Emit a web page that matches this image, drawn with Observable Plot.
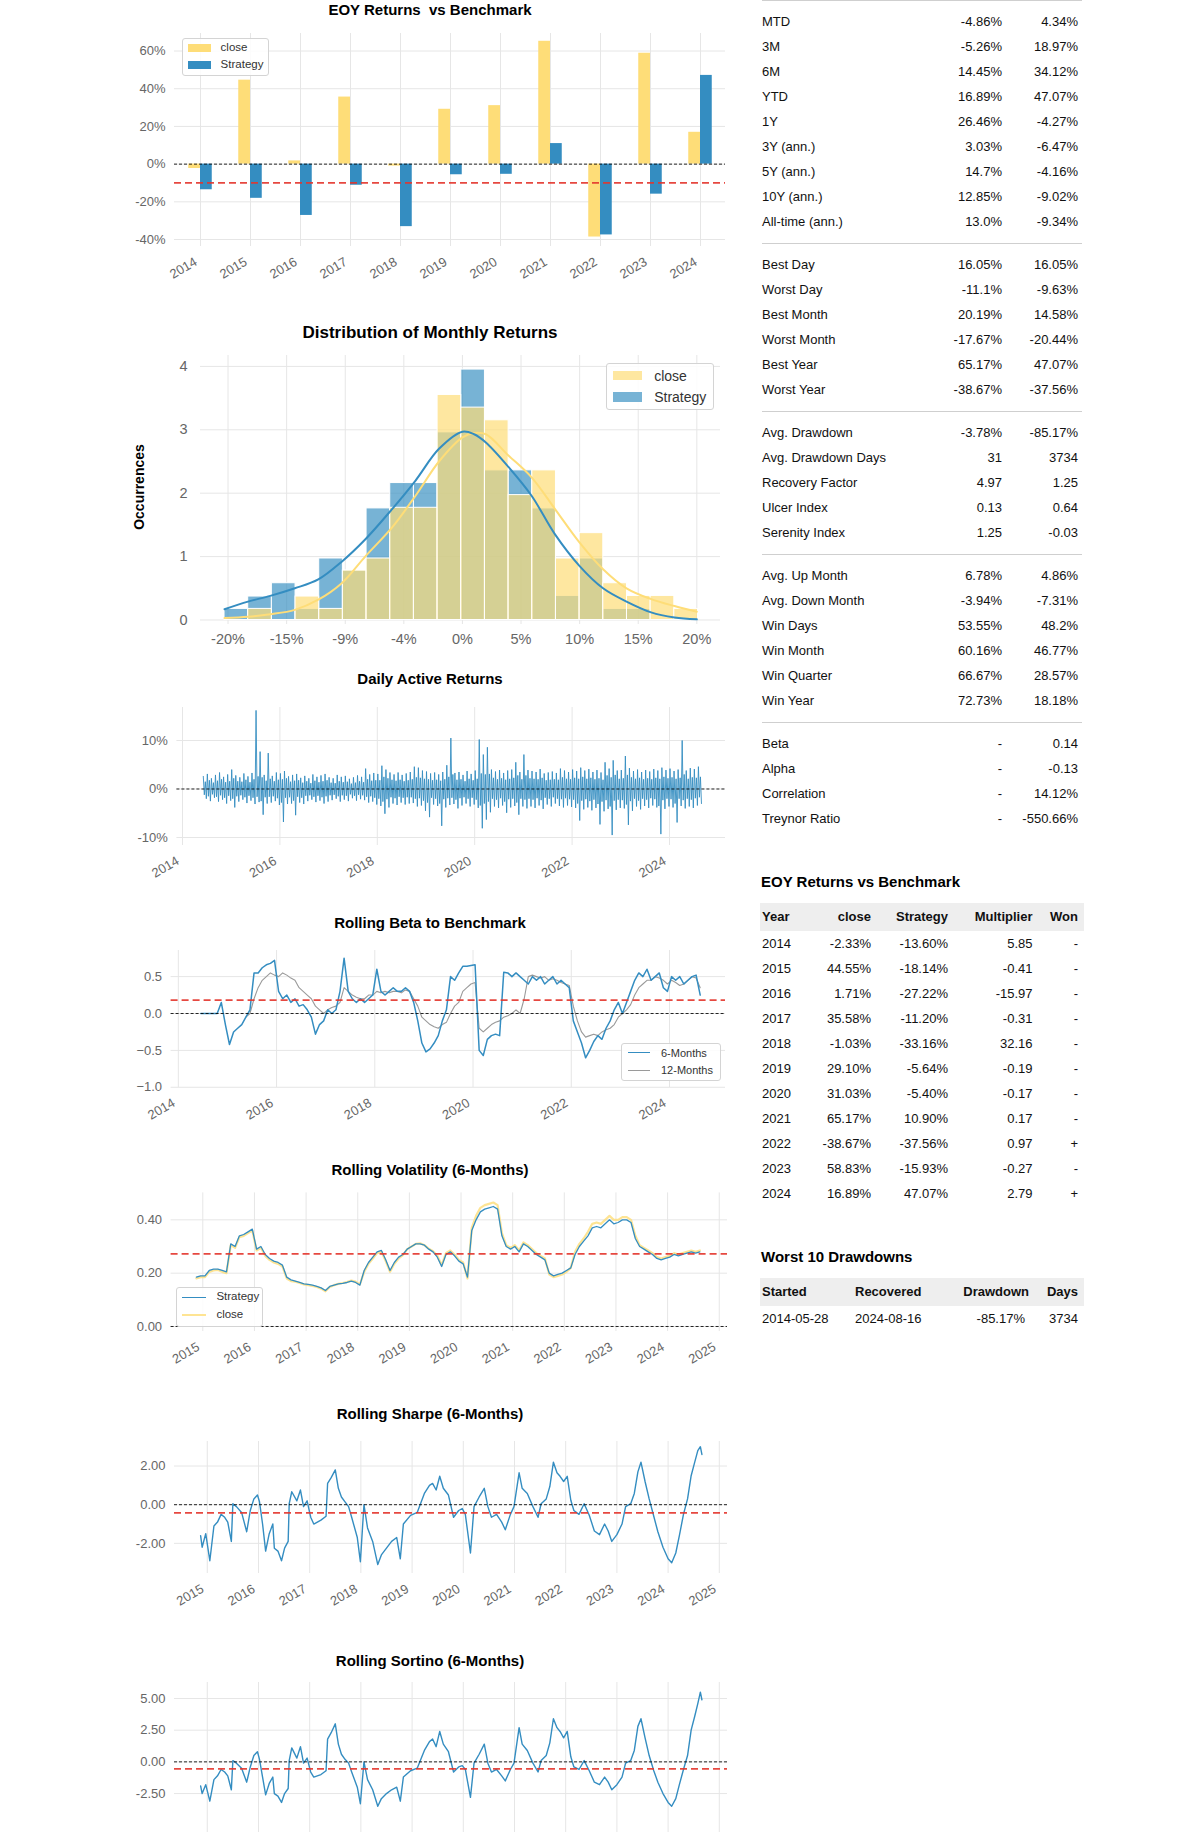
<!DOCTYPE html>
<html><head><meta charset="utf-8">
<script src="https://cdn.jsdelivr.net/npm/d3@7"></script>
<script src="https://cdn.jsdelivr.net/npm/@observablehq/plot@0.6"></script>
<style>
html,body{margin:0;padding:0;background:#fff;}
body{width:1200px;height:1832px;overflow:hidden;position:relative;font-family:"Liberation Sans",Arial,Helvetica,sans-serif;color:#111;}
#root{position:absolute;left:0;top:0;width:1200px;height:1832px;overflow:hidden;}
.title{position:absolute;font-weight:bold;font-size:15px;transform:translate(-50%,-50%);white-space:pre;color:#000;line-height:1;}
.legend{position:absolute;border:1px solid #d4d4d4;border-radius:3px;background:rgba(255,255,255,0.85);box-sizing:border-box;}
.legend .sw{position:absolute;}
.legend .lt{position:absolute;white-space:nowrap;color:#333;transform:translateY(-50%);line-height:1;}
.tbl{position:absolute;font-size:13px;color:#111;}
.row{position:relative;height:25px;line-height:25px;white-space:nowrap;}
.r{position:absolute;top:0;text-align:right;}
</style>
</head><body><div id="root"></div>
<script>
// ---------------- DATA ----------------
const years = [2014,2015,2016,2017,2018,2019,2020,2021,2022,2023,2024];
const eoyClose = [-2.33,44.55,1.71,35.58,-1.03,29.10,31.03,65.17,-38.67,58.83,16.89];
const eoyStrategy = [-13.60,-18.14,-27.22,-11.20,-33.16,-5.64,-5.40,10.90,-37.56,-15.93,47.07];
const eoyMultiplier = ["5.85","-0.41","-15.97","-0.31","32.16","-0.19","-0.17","0.17","0.97","-0.27","2.79"];
const eoyWon = ["-","-","-","-","-","-","-","-","+","-","+"];
const eoyYTicks = [-40,-20,0,20,40,60];

const histBinStart = -20.3, histBinWidth = 2.02;
const histClose    = [0,0.175,0,0.37,0.175,0.78,0.97,1.77,1.77,3.55,3.35,3.15,1.97,2.36,0.97,1.37,0.58,0.38,0.38,0.175];
const histStrategy = [0.175,0.37,0.58,0.175,0.97,0.78,1.76,2.16,2.16,2.96,3.95,2.36,2.36,1.76,0.38,0.97,0.175,0.175,0,0];
const kdeX        = [-20.3,-18.3,-16.4,-14.3,-12.3,-10.3,-8.3,-6,-4,-2,0,1,2,3.9,5.9,7.9,10,12,14,16.1,18.1,20];
const kdeStrategy = [0.17,0.29,0.38,0.50,0.64,0.92,1.27,1.75,2.2,2.7,2.97,2.93,2.8,2.42,1.96,1.35,0.85,0.50,0.29,0.12,0.04,0.01];
const kdeClose    = [0.03,0.05,0.09,0.16,0.32,0.58,1.0,1.46,1.96,2.5,2.88,2.95,2.93,2.6,2.25,1.75,1.22,0.80,0.50,0.33,0.22,0.13];
const histTicks = [-20,-15,-10,-5,0,5,10,15,20];
const histTickLabels = ["-20%","-15%","-9%","-4%","0%","5%","10%","15%","20%"];

// Daily active returns (%), per month from Jun 2014 to Aug 2024: extreme high, extreme low, typical high, typical low
const activeStart = 2014 + 5/12;
const activeHi = [2.6,3.1,2.2,2.9,3.4,2.5,3.0,
 4.0,2.8,2.4,3.2,2.6,3.3,16.2,7.7,2.9,7.4,2.7,3.4,
 3.2,3.7,2.6,2.9,3.1,2.3,2.7,2.2,3.0,2.5,2.8,3.1,
 2.4,2.2,2.9,2.5,2.7,2.1,2.4,2.8,2.5,4.2,3.0,3.3,
 3.1,4.8,4.0,3.4,3.0,3.4,2.9,3.2,3.5,4.6,4.4,3.8,
 3.6,3.2,3.4,3.0,3.5,4.9,10.5,3.3,3.5,2.9,3.7,3.1,
 3.8,10.2,7.1,8.6,4.0,3.6,3.9,3.3,3.8,4.0,5.5,3.5,
 7.1,3.9,3.7,3.5,4.1,3.2,3.4,3.6,3.3,4.2,3.8,3.5,
 4.0,3.7,4.4,3.8,4.1,3.5,3.9,3.4,5.5,4.2,5.9,3.8,
 3.9,6.8,4.3,3.7,4.0,3.5,3.9,3.6,4.1,3.8,4.4,3.9,
 4.2,3.7,4.0,10.0,3.8,4.3,4.1,4.6];
const activeLo = [-2.0,-2.5,-1.8,-2.6,-2.2,-3.0,-2.4,
 -3.8,-2.6,-2.2,-2.9,-2.4,-3.1,-2.7,-5.3,-3.0,-2.8,-2.5,-3.3,
 -6.8,-3.1,-3.0,-5.4,-2.8,-3.1,-2.5,-2.2,-2.7,-2.4,-3.0,-2.6,
 -2.3,-2.0,-2.6,-2.2,-2.5,-1.9,-2.4,-2.1,-2.3,-2.8,-2.6,-3.2,
 -3.5,-5.1,-3.8,-3.0,-3.3,-2.8,-3.2,-3.0,-2.9,-3.6,-3.4,-4.5,
 -5.8,-3.2,-3.5,-7.6,-3.8,-3.3,-3.1,-4.0,-3.4,-3.0,-3.6,-3.2,
 -3.9,-8.1,-6.3,-4.8,-3.6,-3.9,-3.4,-4.9,-3.8,-3.5,-5.3,-3.6,
 -4.0,-3.6,-3.9,-3.4,-4.1,-3.2,-3.6,-3.0,-3.5,-3.8,-3.4,-3.7,
 -3.9,-6.5,-4.2,-3.8,-4.4,-3.9,-7.3,-4.6,-4.1,-9.5,-4.3,-3.9,
 -4.0,-7.4,-4.5,-3.6,-4.2,-3.5,-3.9,-3.4,-3.8,-9.3,-4.1,-3.6,
 -3.8,-6.9,-3.5,-4.0,-3.6,-3.9,-3.4,-3.0];
const activeMidHi = [1.5,1.8,1.3,1.7,2.0,1.4,1.6,
 2.2,1.6,1.5,1.9,1.4,2.0,2.6,2.4,1.7,2.1,1.6,1.9,
 2.0,2.2,1.5,1.7,1.8,1.3,1.6,1.2,1.7,1.4,1.6,1.8,
 1.3,1.2,1.6,1.4,1.5,1.1,1.3,1.6,1.4,2.0,1.7,1.8,
 1.8,2.5,2.2,1.9,1.7,1.9,1.6,1.8,2.0,2.4,2.3,2.1,
 2.0,1.8,1.9,1.7,2.0,2.5,3.0,1.9,2.0,1.6,2.1,1.8,
 2.1,3.2,3.0,3.1,2.3,2.0,2.2,1.9,2.1,2.3,2.8,2.0,
 2.8,2.2,2.1,2.0,2.3,1.8,1.9,2.0,1.9,2.4,2.1,2.0,
 2.3,2.1,2.5,2.1,2.3,2.0,2.2,1.9,2.8,2.4,2.9,2.1,
 2.2,2.9,2.4,2.1,2.3,2.0,2.2,2.0,2.3,2.1,2.5,2.2,
 2.4,2.1,2.3,3.0,2.1,2.4,2.3,2.5];
const activeMidLo = [-1.2,-1.5,-1.1,-1.6,-1.3,-1.8,-1.4,
 -2.0,-1.5,-1.3,-1.7,-1.4,-1.8,-1.6,-2.5,-1.7,-1.6,-1.5,-1.9,
 -2.8,-1.8,-1.7,-2.4,-1.6,-1.8,-1.4,-1.3,-1.6,-1.4,-1.7,-1.5,
 -1.3,-1.2,-1.5,-1.3,-1.4,-1.1,-1.4,-1.2,-1.3,-1.6,-1.5,-1.8,
 -2.0,-2.6,-2.1,-1.7,-1.9,-1.6,-1.8,-1.7,-1.7,-2.0,-1.9,-2.4,
 -2.8,-1.8,-2.0,-3.0,-2.1,-1.9,-1.8,-2.2,-1.9,-1.7,-2.0,-1.8,
 -2.2,-3.4,-3.0,-2.6,-2.0,-2.2,-1.9,-2.6,-2.1,-2.0,-2.8,-2.0,
 -2.2,-2.0,-2.2,-1.9,-2.3,-1.8,-2.0,-1.7,-2.0,-2.1,-1.9,-2.1,
 -2.2,-3.0,-2.4,-2.1,-2.5,-2.2,-3.1,-2.6,-2.3,-3.6,-2.4,-2.2,
 -2.3,-3.2,-2.5,-2.0,-2.4,-2.0,-2.2,-1.9,-2.1,-3.5,-2.3,-2.0,
 -2.1,-3.0,-2.0,-2.3,-2.0,-2.2,-1.9,-1.7];

// Rolling beta, monthly from Jun 2014
const betaStart = 2014 + 5/12;
const beta6 = [0,0,0,0,0,0.15,-0.15,
 -0.42,-0.25,-0.2,-0.15,-0.05,0.05,0.55,0.55,0.62,0.66,0.68,0.72,
 0.3,0.2,0.25,0.15,0.2,0.1,0.12,0.05,-0.05,-0.28,-0.15,-0.1,
 0.05,0.0,0.05,0.3,0.75,0.3,0.2,0.15,0.2,0.15,0.2,0.25,
 0.6,0.3,0.25,0.3,0.35,0.3,0.3,0.35,0.3,0.15,-0.1,-0.4,
 -0.52,-0.48,-0.4,-0.3,-0.1,0.05,0.5,0.45,0.55,0.64,0.64,0.65,
 0.66,-0.5,-0.57,-0.35,-0.3,-0.28,-0.3,0.56,0.55,0.5,0.55,0.5,
 0.45,0.4,0.5,0.45,0.5,0.4,0.45,0.5,0.4,0.45,0.4,0.35,
 -0.1,-0.25,-0.4,-0.6,-0.5,-0.38,-0.3,-0.35,-0.2,-0.1,0.05,0.15,
 0.0,0.15,0.3,0.45,0.55,0.5,0.6,0.45,0.5,0.55,0.35,0.3,
 0.5,0.45,0.5,0.4,0.45,0.5,0.52,0.25];
const beta12 = [null,null,null,null,null,null,null,
 null,null,null,null,-0.05,0.0,0.2,0.35,0.45,0.5,0.55,0.52,
 0.5,0.55,0.52,0.48,0.45,0.35,0.3,0.25,0.2,0.1,0.05,0.0,
 0.05,0.08,0.1,0.15,0.35,0.3,0.25,0.22,0.2,0.2,0.25,0.25,
 0.3,0.28,0.3,0.28,0.3,0.3,0.28,0.32,0.3,0.2,0.1,-0.05,
 -0.1,-0.15,-0.18,-0.2,-0.15,-0.12,0.0,0.1,0.15,0.3,0.35,0.4,
 0.42,-0.2,-0.25,-0.2,-0.15,-0.12,-0.1,-0.05,-0.03,0.0,0.05,0.0,
 0.2,0.5,0.52,0.5,0.48,0.5,0.45,0.47,0.45,0.42,0.4,0.38,
 0.1,-0.1,-0.25,-0.32,-0.3,-0.28,-0.3,-0.25,-0.22,-0.2,-0.15,-0.05,
 0.0,0.05,0.12,0.25,0.35,0.4,0.45,0.45,0.5,0.48,0.45,0.4,
 0.45,0.42,0.38,0.4,0.45,0.5,0.48,0.35];
const betaMean = 0.18;

// Rolling volatility, monthly from Nov 2014
const volStart = 2014 + 10/12;
const volStrategy = [0.185,0.19,
 0.19,0.21,0.215,0.215,0.21,0.205,0.31,0.30,0.34,0.345,0.355,0.365,
 0.29,0.30,0.27,0.255,0.245,0.24,0.23,0.185,0.175,0.17,0.165,0.16,
 0.158,0.155,0.15,0.145,0.135,0.15,0.155,0.16,0.162,0.165,0.17,0.165,
 0.155,0.21,0.24,0.26,0.28,0.285,0.25,0.21,0.24,0.26,0.27,0.29,
 0.30,0.31,0.31,0.305,0.29,0.28,0.26,0.225,0.27,0.28,0.265,0.245,
 0.235,0.185,0.36,0.40,0.43,0.44,0.445,0.45,0.44,0.34,0.30,0.29,
 0.30,0.28,0.31,0.30,0.285,0.27,0.26,0.25,0.20,0.19,0.195,0.20,
 0.21,0.22,0.27,0.30,0.32,0.34,0.37,0.375,0.37,0.385,0.40,0.385,
 0.39,0.40,0.40,0.39,0.33,0.30,0.29,0.28,0.27,0.255,0.25,0.255,
 0.26,0.27,0.265,0.27,0.275,0.28,0.275,0.28];
const volClose = [0.18,0.185,
 0.185,0.205,0.21,0.212,0.205,0.2,0.305,0.295,0.335,0.34,0.35,0.36,
 0.285,0.295,0.265,0.25,0.24,0.235,0.225,0.18,0.17,0.168,0.163,0.158,
 0.155,0.152,0.148,0.142,0.132,0.148,0.155,0.16,0.163,0.167,0.172,0.168,
 0.158,0.205,0.235,0.255,0.275,0.28,0.245,0.205,0.235,0.255,0.268,0.29,
 0.30,0.31,0.312,0.305,0.292,0.282,0.265,0.23,0.275,0.285,0.27,0.25,
 0.24,0.18,0.37,0.415,0.445,0.455,0.46,0.465,0.455,0.35,0.305,0.295,
 0.305,0.285,0.315,0.305,0.29,0.275,0.265,0.255,0.195,0.185,0.19,0.195,
 0.205,0.22,0.28,0.31,0.33,0.355,0.385,0.39,0.385,0.40,0.415,0.40,
 0.40,0.41,0.41,0.40,0.34,0.305,0.295,0.285,0.275,0.26,0.255,0.26,
 0.265,0.275,0.27,0.275,0.28,0.285,0.28,0.285];
const volMean = 0.272;

// Rolling Sharpe / Sortino (6-Months)
const rollT = [2014.87,2014.90,2014.97,2015.05,2015.13,2015.20,2015.27,2015.34,2015.40,2015.47,
 2015.50,2015.57,2015.67,2015.77,2015.84,2015.91,2015.98,2016.02,2016.08,2016.14,
 2016.21,2016.28,2016.31,2016.38,2016.45,2016.51,2016.58,2016.60,2016.65,2016.75,
 2016.82,2016.88,2016.95,2017.02,2017.08,2017.22,2017.32,2017.35,2017.42,2017.50,
 2017.56,2017.62,2017.69,2017.76,2017.82,2017.93,2017.99,2018.06,2018.13,2018.23,
 2018.33,2018.40,2018.50,2018.60,2018.70,2018.77,2018.83,2018.97,2019.10,2019.24,
 2019.34,2019.40,2019.47,2019.54,2019.61,2019.71,2019.81,2019.91,2019.98,2020.04,
 2020.14,2020.21,2020.31,2020.41,2020.48,2020.55,2020.65,2020.75,2020.82,2020.92,
 2020.99,2021.09,2021.15,2021.25,2021.36,2021.46,2021.52,2021.62,2021.69,2021.76,
 2021.83,2021.89,2021.96,2022.03,2022.10,2022.16,2022.26,2022.36,2022.46,2022.56,
 2022.66,2022.76,2022.83,2022.90,2023.00,2023.10,2023.17,2023.27,2023.34,2023.41,
 2023.47,2023.55,2023.63,2023.72,2023.80,2023.90,2024.00,2024.07,2024.15,2024.22,
 2024.30,2024.38,2024.45,2024.52,2024.58,2024.63,2024.66];
const sharpe = [-1.6,-2.2,-1.5,-2.9,-1.1,-0.9,-0.5,-0.65,-0.9,-1.9,
 0.05,-0.1,-0.4,-1.4,-0.3,0.3,0.5,0.15,-1.0,-2.4,
 -1.5,-1.0,-2.25,-2.4,-2.9,-2.25,-1.9,0.05,0.67,0.2,
 0.76,-0.1,0.2,-0.65,-1.0,-0.8,-0.6,1.1,1.4,1.8,
 0.85,0.4,0.15,-0.1,-0.65,-1.7,-2.95,0.0,-1.2,-1.9,
 -3.1,-2.6,-2.25,-1.9,-1.7,-2.8,-1.0,-0.55,-0.4,0.58,
 1.0,1.1,0.76,1.47,0.85,0.5,-0.65,-0.3,-0.2,-0.5,
 -2.5,-0.1,0.4,0.85,-0.1,-0.65,-0.5,-0.9,-1.3,-0.5,
 -0.1,1.65,0.85,0.58,-0.1,-0.65,0.05,0.3,0.94,2.2,
 1.65,1.47,1.2,1.47,0.23,-0.3,-0.5,0.05,-0.55,-1.36,
 -1.55,-1.0,-1.36,-1.9,-1.55,-1.0,-0.1,0.05,0.58,1.7,
 2.2,1.2,0.3,-0.6,-1.4,-2.2,-2.8,-3.0,-2.5,-1.6,
 -0.5,0.3,1.5,2.2,2.8,3.0,2.6];
const sortino = [-1.9,-2.5,-1.8,-3.1,-1.4,-1.1,-0.6,-0.8,-1.1,-2.2,
 0.1,-0.1,-0.5,-1.6,-0.4,0.5,0.8,0.2,-1.2,-2.6,
 -1.7,-1.2,-2.5,-2.7,-3.2,-2.5,-2.1,0.1,1.1,0.3,
 1.2,-0.1,0.3,-0.8,-1.2,-1.0,-0.7,1.8,2.3,3.0,
 1.4,0.6,0.2,-0.1,-0.8,-2.0,-3.3,0.0,-1.4,-2.2,
 -3.5,-2.9,-2.5,-2.2,-2.0,-3.1,-1.2,-0.7,-0.5,0.9,
 1.6,1.8,1.2,2.4,1.4,0.8,-0.8,-0.4,-0.3,-0.6,
 -2.8,-0.1,0.6,1.4,-0.1,-0.8,-0.6,-1.1,-1.5,-0.6,
 -0.1,2.7,1.4,0.9,-0.1,-0.8,0.1,0.5,1.5,3.4,
 2.7,2.4,1.9,2.4,0.4,-0.4,-0.6,0.1,-0.7,-1.6,
 -1.8,-1.2,-1.6,-2.2,-1.8,-1.2,-0.1,0.1,0.9,2.8,
 3.4,1.9,0.5,-0.7,-1.6,-2.5,-3.2,-3.5,-2.9,-1.8,
 -0.6,0.5,2.5,3.6,4.6,5.5,4.9];
const sharpeMean = -0.42, sortinoMean = -0.55;

// Metrics table (close = benchmark column, Strategy column)
const mLabels1 = ["MTD","3M","6M","YTD","1Y","3Y (ann.)","5Y (ann.)","10Y (ann.)","All-time (ann.)"];
const mClose1  = ["-4.86%","-5.26%","14.45%","16.89%","26.46%","3.03%","14.7%","12.85%","13.0%"];
const mStrat1  = ["4.34%","18.97%","34.12%","47.07%","-4.27%","-6.47%","-4.16%","-9.02%","-9.34%"];
const mLabels2 = ["Best Day","Worst Day","Best Month","Worst Month","Best Year","Worst Year"];
const mClose2  = ["16.05%","-11.1%","20.19%","-17.67%","65.17%","-38.67%"];
const mStrat2  = ["16.05%","-9.63%","14.58%","-20.44%","47.07%","-37.56%"];
const mLabels3 = ["Avg. Drawdown","Avg. Drawdown Days","Recovery Factor","Ulcer Index","Serenity Index"];
const mClose3  = ["-3.78%","31","4.97","0.13","1.25"];
const mStrat3  = ["-85.17%","3734","1.25","0.64","-0.03"];
const mLabels4 = ["Avg. Up Month","Avg. Down Month","Win Days","Win Month","Win Quarter","Win Year"];
const mClose4  = ["6.78%","-3.94%","53.55%","60.16%","66.67%","72.73%"];
const mStrat4  = ["4.86%","-7.31%","48.2%","46.77%","28.57%","18.18%"];
const mLabels5 = ["Beta","Alpha","Correlation","Treynor Ratio"];
const mClose5  = ["-","-","-","-"];
const mStrat5  = ["0.14","-0.13","14.12%","-550.66%"];

const ddStarted = ["2014-05-28"], ddRecovered = ["2024-08-16"], ddDrawdown = ["-85.17%"], ddDays = ["3734"];

// ---------------- HELPERS ----------------
const FONT = '"Liberation Sans", Arial, Helvetica, sans-serif';
const BLUE = "#348dc1", YELLOW = "#fedd78", GRID = "#e6e6e6", TICK = "#666", RED = "#e3342b", GRAY = "#9a9a9a";
const root = document.getElementById("root");

function place(node, left, top) {
  node.style.position = "absolute"; node.style.left = left + "px"; node.style.top = top + "px";
  root.appendChild(node);
}
function title(text, cx, cy, size) {
  const d = document.createElement("div"); d.className = "title"; d.textContent = text;
  d.style.left = cx + "px"; d.style.top = cy + "px"; if (size) d.style.fontSize = size + "px";
  root.appendChild(d);
}
function xLabels(ticks) {
  return Plot.text(ticks, {x: d => d, text: d => String(d), frameAnchor: "bottom", textAnchor: "end",
    lineAnchor: "top", rotate: -30, dx: -7, dy: 10, fontSize: 13, fill: TICK});
}
function yAxis(ticks, fmt, pad = 9, size = 13) {
  return Plot.axisY({ticks, tickFormat: fmt, tickSize: 0, tickPadding: pad, fontSize: size, color: TICK, label: null});
}
const zeroLine = () => Plot.ruleY([0], {stroke: "#000", strokeDasharray: "3,2", strokeWidth: 1, strokeOpacity: 0.85});
const meanLine = v => Plot.ruleY([v], {stroke: RED, strokeDasharray: "7,4", strokeWidth: 1.8, strokeOpacity: 0.9});
const baseStyle = {fontFamily: FONT, background: "transparent", overflow: "visible"};
function legend(left, top, w, h, items, fontSize, swX, swW, textX) {
  const box = document.createElement("div"); box.className = "legend";
  box.style.width = w + "px"; box.style.height = h + "px";
  items.forEach(it => {
    const sw = document.createElement("div"); sw.className = "sw";
    sw.style.left = swX + "px"; sw.style.width = swW + "px";
    sw.style.top = (it.y - it.h / 2) + "px"; sw.style.height = it.h + "px"; sw.style.background = it.color;
    box.appendChild(sw);
    const t = document.createElement("div"); t.className = "lt"; t.textContent = it.label;
    t.style.left = textX + "px"; t.style.top = it.y + "px"; t.style.fontSize = fontSize + "px";
    box.appendChild(t);
  });
  place(box, left, top);
}

// ---------------- EOY RETURNS ----------------
const eoyData = years.map((y, i) => ({year: y, close: eoyClose[i], strategy: eoyStrategy[i]}));
title("EOY Returns  vs Benchmark", 430, 8.5);
place(Plot.plot({
  width: 740, height: 285, marginLeft: 174, marginRight: 15, marginTop: 13, marginBottom: 59,
  x: {domain: [2013.48, 2024.5], axis: null}, y: {domain: [-43.7, 69.3]}, style: baseStyle,
  marks: [
    Plot.gridX({ticks: years, stroke: GRID, strokeOpacity: 1}),
    Plot.gridY({ticks: eoyYTicks, stroke: GRID, strokeOpacity: 1}),
    Plot.rect(eoyData, {x1: d => d.year - 0.235, x2: d => d.year, y1: 0, y2: d => d.close, fill: YELLOW}),
    Plot.rect(eoyData, {x1: d => d.year, x2: d => d.year + 0.235, y1: 0, y2: d => d.strategy, fill: BLUE}),
    zeroLine(),
    meanLine(d3.mean(eoyStrategy)),
    yAxis(eoyYTicks, d => d + "%"),
    xLabels(years)
  ]
}), 0, 20);
legend(181.6, 37.9, 87, 38, [
  {label: "close", color: YELLOW, y: 9.3, h: 7.6},
  {label: "Strategy", color: BLUE, y: 26.4, h: 7.6}], 11.5, 5.5, 22.5, 38);

// ---------------- HISTOGRAM ----------------
const histData = histClose.map((c, i) => ({x1: histBinStart + i * histBinWidth, x2: histBinStart + (i + 1) * histBinWidth, close: c, strategy: histStrategy[i]}));
const kdeData = kdeX.map((x, i) => ({x, s: kdeStrategy[i], c: kdeClose[i]}));
title("Distribution of Monthly Returns", 430, 332, 17);
place(Plot.plot({
  width: 740, height: 310, marginLeft: 200, marginRight: 20, marginTop: 10, marginBottom: 31,
  x: {domain: [-22.35, 22.02]}, y: {domain: [-0.071, 4.172]}, style: baseStyle,
  marks: [
    Plot.gridX({ticks: histTicks, stroke: GRID, strokeOpacity: 1}),
    Plot.gridY({ticks: [0,1,2,3,4], stroke: GRID, strokeOpacity: 1}),
    Plot.rect(histData, {x1: "x1", x2: "x2", y1: 0, y2: "strategy", fill: BLUE, fillOpacity: 0.67, stroke: "#fff", strokeWidth: 1}),
    Plot.rect(histData, {x1: "x1", x2: "x2", y1: 0, y2: "close", fill: YELLOW, fillOpacity: 0.7, stroke: "#fff", strokeWidth: 1}),
    Plot.line(kdeData, {x: "x", y: "c", stroke: YELLOW, strokeWidth: 2, curve: "catmull-rom"}),
    Plot.line(kdeData, {x: "x", y: "s", stroke: BLUE, strokeWidth: 2, curve: "catmull-rom"}),
    yAxis([0,1,2,3,4], d => String(d), 13, 14.5),
    Plot.axisX({ticks: histTicks, tickFormat: d => histTickLabels[histTicks.indexOf(d)], tickSize: 0, tickPadding: 9, fontSize: 14.5, color: TICK, label: null})
  ]
}), 0, 345);
{
  const occ = document.createElement("div"); occ.className = "title"; occ.textContent = "Occurrences";
  occ.style.left = "138.7px"; occ.style.top = "487px"; occ.style.fontSize = "14px";
  occ.style.transform = "translate(-50%,-50%) rotate(-90deg)";
  root.appendChild(occ);
}
legend(605.8, 362.8, 108, 47.4, [
  {label: "close", color: "rgba(254,221,120,0.7)", y: 11.9, h: 9.4},
  {label: "Strategy", color: "rgba(52,141,193,0.67)", y: 33.2, h: 9.4}], 14, 6.2, 28.6, 47.4);

// ---------------- DAILY ACTIVE RETURNS ----------------
const activeData = [];
activeHi.forEach((h, i) => {
  const t0 = activeStart + i / 12;
  activeData.push({t: t0 + 0.125 / 12, v: h});
  activeData.push({t: t0 + 0.375 / 12, v: activeMidLo[i]});
  activeData.push({t: t0 + 0.625 / 12, v: activeMidHi[i]});
  activeData.push({t: t0 + 0.875 / 12, v: activeLo[i]});
});
const evenYears = [2014,2016,2018,2020,2022,2024];
title("Daily Active Returns", 430, 677.5);
place(Plot.plot({
  width: 740, height: 190, marginLeft: 176.4, marginRight: 15, marginTop: 8, marginBottom: 44,
  x: {domain: [2013.885, 2025.15], axis: null}, y: {domain: [-11.65, 16.8]}, style: baseStyle,
  marks: [
    Plot.gridX({ticks: evenYears, stroke: GRID, strokeOpacity: 1}),
    Plot.gridY({ticks: [-10,0,10], stroke: GRID, strokeOpacity: 1}),
    Plot.line(activeData, {x: "t", y: "v", stroke: BLUE, strokeWidth: 0.9}),
    zeroLine(),
    yAxis([-10,0,10], d => d + "%"),
    xLabels(evenYears)
  ]
}), 0, 699);

// ---------------- ROLLING BETA ----------------
const betaData = beta6.map((v, i) => ({t: betaStart + (i + 0.5) / 12, b6: v, b12: beta12[i]}));
const fmt1 = d3.format(".1f");
title("Rolling Beta to Benchmark", 430, 922);
place(Plot.plot({
  width: 740, height: 195, marginLeft: 170.6, marginRight: 15, marginTop: 12, marginBottom: 46,
  x: {domain: [2013.853, 2025.14], axis: null}, y: {domain: [-1.003, 0.854]}, style: baseStyle,
  marks: [
    Plot.gridX({ticks: evenYears, stroke: GRID, strokeOpacity: 1}),
    Plot.gridY({ticks: [-1,-0.5,0,0.5], stroke: GRID, strokeOpacity: 1}),
    Plot.line(betaData.filter(d => d.b12 != null), {x: "t", y: "b12", stroke: GRAY, strokeWidth: 1.1}),
    Plot.line(betaData, {x: "t", y: "b6", stroke: BLUE, strokeWidth: 1.5}),
    meanLine(betaMean),
    zeroLine(),
    yAxis([-1,-0.5,0,0.5], d => fmt1(d)),
    xLabels(evenYears)
  ]
}), 0, 937.5);
legend(620.7, 1042.5, 100, 38, [
  {label: "6-Months", color: BLUE, y: 9.2, h: 1.6},
  {label: "12-Months", color: GRAY, y: 26.8, h: 1.3}], 11, 6, 22, 39.3);

// ---------------- ROLLING VOLATILITY ----------------
const allYears = [2015,2016,2017,2018,2019,2020,2021,2022,2023,2024,2025];
const volData = volStrategy.map((v, i) => ({t: volStart + (i + 0.5) / 12, s: v, c: volClose[i]}));
title("Rolling Volatility (6-Months)", 430, 1169);
place(Plot.plot({
  width: 740, height: 195, marginLeft: 170.6, marginRight: 13, marginTop: 10.4, marginBottom: 46,
  x: {domain: [2014.386, 2025.16], axis: null}, y: {domain: [-0.0188, 0.501]}, style: baseStyle,
  marks: [
    Plot.gridX({ticks: allYears, stroke: GRID, strokeOpacity: 1}),
    Plot.gridY({ticks: [0,0.2,0.4], stroke: GRID, strokeOpacity: 1}),
    Plot.line(volData, {x: "t", y: "c", stroke: YELLOW, strokeWidth: 2.2, strokeOpacity: 0.8}),
    Plot.line(volData, {x: "t", y: "s", stroke: BLUE, strokeWidth: 1.3}),
    meanLine(volMean),
    zeroLine(),
    yAxis([0,0.2,0.4], d => d.toFixed(2)),
    xLabels(allYears)
  ]
}), 0, 1181.5);
legend(176.4, 1287.2, 86.5, 40.3, [
  {label: "Strategy", color: BLUE, y: 9.3, h: 1.6},
  {label: "close", color: "rgba(254,221,120,0.8)", y: 26.5, h: 2.2}], 11.5, 4.6, 24, 39);

// ---------------- ROLLING SHARPE ----------------
const rollData = rollT.map((t, i) => ({t, sh: sharpe[i], so: sortino[i]}));
title("Rolling Sharpe (6-Months)", 430, 1413);
place(Plot.plot({
  width: 740, height: 195, marginLeft: 174, marginRight: 13, marginTop: 14, marginBottom: 49,
  x: {domain: [2014.36, 2025.16], axis: null}, y: {domain: [-3.56, 3.27]}, style: baseStyle,
  marks: [
    Plot.gridX({ticks: allYears, stroke: GRID, strokeOpacity: 1}),
    Plot.gridY({ticks: [-2,0,2], stroke: GRID, strokeOpacity: 1}),
    Plot.line(rollData, {x: "t", y: "sh", stroke: BLUE, strokeWidth: 1.4}),
    zeroLine(),
    meanLine(sharpeMean),
    yAxis([-2,0,2], d => d.toFixed(2)),
    xLabels(allYears)
  ]
}), 0, 1426.5);

// ---------------- ROLLING SORTINO ----------------
title("Rolling Sortino (6-Months)", 430, 1659.5);
place(Plot.plot({
  width: 740, height: 158, marginLeft: 174, marginRight: 13, marginTop: 8, marginBottom: 0,
  x: {domain: [2014.36, 2025.16], axis: null}, y: {domain: [-5.57, 6.26]}, style: baseStyle,
  marks: [
    Plot.gridX({ticks: allYears, stroke: GRID, strokeOpacity: 1}),
    Plot.gridY({ticks: [-2.5,0,2.5,5], stroke: GRID, strokeOpacity: 1}),
    Plot.line(rollData, {x: "t", y: "so", stroke: BLUE, strokeWidth: 1.4}),
    zeroLine(),
    meanLine(sortinoMean),
    yAxis([-2.5,0,2.5,5], d => d.toFixed(2))
  ]
}), 0, 1674);

// ---------------- METRICS TABLE ----------------
{
  const groups = [[mLabels1,mClose1,mStrat1],[mLabels2,mClose2,mStrat2],[mLabels3,mClose3,mStrat3],[mLabels4,mClose4,mStrat4],[mLabels5,mClose5,mStrat5]];
  const tbl = document.createElement("div"); tbl.className = "tbl"; tbl.style.width = "320px";
  groups.forEach(([labs, cl, st], gi) => {
    const g = document.createElement("div");
    g.style.borderTop = "1px solid #cfcfcf"; g.style.padding = "8px 0 9px 0";
    labs.forEach((lab, i) => {
      const r = document.createElement("div"); r.className = "row";
      r.innerHTML = `<span>${lab}</span><span class="r" style="right:80px">${cl[i]}</span><span class="r" style="right:4px">${st[i]}</span>`;
      g.appendChild(r);
    });
    tbl.appendChild(g);
  });
  place(tbl, 762, 0);
}

// ---------------- EOY TABLE ----------------
function headBg(top) { const d = document.createElement("div"); d.style.background = "#eeeeee"; d.style.width = "324px"; d.style.height = "28px"; place(d, 760, top); }
function cell(text, top, x, align, bold, h) {
  const d = document.createElement("div"); d.textContent = text;
  d.style.fontSize = "13px"; d.style.lineHeight = h + "px"; d.style.height = h + "px"; d.style.whiteSpace = "nowrap";
  if (bold) d.style.fontWeight = "bold";
  d.style.color = "#111";
  if (align === "right") { d.style.position = "absolute"; d.style.right = (1200 - x) + "px"; d.style.top = top + "px"; root.appendChild(d); }
  else place(d, x, top);
}
{
  const h = document.createElement("div"); h.textContent = "EOY Returns vs Benchmark";
  h.style.fontWeight = "bold"; h.style.fontSize = "15px"; h.style.lineHeight = "20px"; h.style.color = "#000";
  place(h, 761, 871.7);
  headBg(902.7);
  const hdr = [["Year", 762, "left"], ["close", 871, "right"], ["Strategy", 948, "right"], ["Multiplier", 1032.5, "right"], ["Won", 1078, "right"]];
  hdr.forEach(([t, x, a]) => cell(t, 902.7, x, a, true, 28));
  years.forEach((y, i) => {
    const top = 930.7 + i * 25;
    cell(String(y), top, 762, "left", false, 25);
    cell(eoyClose[i].toFixed(2) + "%", top, 871, "right", false, 25);
    cell(eoyStrategy[i].toFixed(2) + "%", top, 948, "right", false, 25);
    cell(eoyMultiplier[i], top, 1032.5, "right", false, 25);
    cell(eoyWon[i], top, 1078, "right", false, 25);
  });
}
// ---------------- DRAWDOWNS TABLE ----------------
{
  const h = document.createElement("div"); h.textContent = "Worst 10 Drawdowns";
  h.style.fontWeight = "bold"; h.style.fontSize = "15px"; h.style.lineHeight = "20px"; h.style.color = "#000";
  place(h, 761, 1246.5);
  headBg(1277.5);
  cell("Started", 1277.5, 762, "left", true, 28);
  cell("Recovered", 1277.5, 855, "left", true, 28);
  cell("Drawdown", 1277.5, 1029, "right", true, 28);
  cell("Days", 1277.5, 1078, "right", true, 28);
  ddStarted.forEach((s, i) => {
    const top = 1305.5 + i * 25;
    cell(s, top, 762, "left", false, 25);
    cell(ddRecovered[i], top, 855, "left", false, 25);
    cell(ddDrawdown[i], top, 1025, "right", false, 25);
    cell(ddDays[i], top, 1078, "right", false, 25);
  });
}
</script>
</body></html>
